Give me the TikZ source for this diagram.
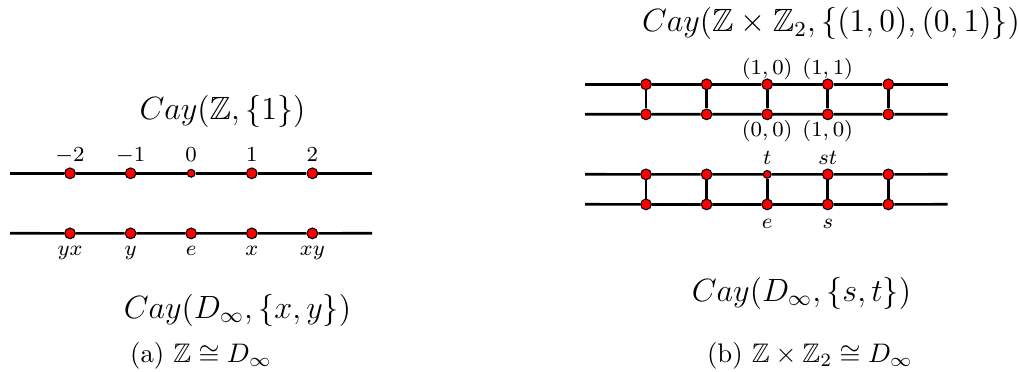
\documentclass[tikz,border=0pt]{standalone}
\usepackage{amsmath,amssymb}
\usetikzlibrary{positioning}

\begin{document}
\begin{tikzpicture}[
        x=0.373pt, y=-0.373pt,
        on grid,
        every node/.style={inner sep=0pt},
        vertex/.style={draw, circle, fill=red, minimum size=4pt, line width=0.4pt},
        smallvertex/.style={vertex, minimum size=2.9pt},
        edge/.style={line width=1pt},
        lbl/.style={font=\footnotesize, text height=5.6pt, text depth=1.6pt},
        cayname/.style={font=\large},
        capnode/.style={font=\normalsize}
    ]
        \useasboundingbox (0,0) rectangle (1020,371);

        % (a) Cay(Z,{1}) on top
        \node[cayname] (cz) at (222.5,111.7) {$Cay(\mathbb{Z},\{1\})$};
        \coordinate (zw) at (10,173.3);
        \coordinate (ze) at (372,173.3);
        \node[vertex] (zn1) at (70,173.3) {};
        \node[vertex, right=22.6pt of zn1] (zn2) {};
        \node[smallvertex, right=22.6pt of zn2] (zn3) {};
        \node[vertex, right=22.6pt of zn3] (zn4) {};
        \node[vertex, right=22.6pt of zn4] (zn5) {};

        \node[lbl, above=6.5pt of zn1] (zl1) {$-2$};
        \node[lbl, above=6.5pt of zn2] (zl2) {$-1$};
        \node[lbl, above=6.5pt of zn3] (zl3) {$0$};
        \node[lbl, above=6.5pt of zn4] (zl4) {$1$};
        \node[lbl, above=6.5pt of zn5] (zl5) {$2$};

        \draw[edge] (zw) -- (zn1) -- (zn2) -- (zn3) -- (zn4) -- (zn5) -- (ze);

        % (a) Cay(D_inf,{x,y}) below
        \coordinate (dw) at (10,233.3);
        \coordinate (de) at (372,233.3);
        \node[vertex, below=22.4pt of zn1] (dn1) {};
        \node[vertex, below=22.4pt of zn2] (dn2) {};
        \node[vertex, below=22.4pt of zn3] (dn3) {};
        \node[vertex, below=22.4pt of zn4] (dn4) {};
        \node[vertex, below=22.4pt of zn5] (dn5) {};

        \node[lbl, below=6.2pt of dn1] (dl1) {$yx$};
        \node[lbl, below=6.2pt of dn2] (dl2) {$y$};
        \node[lbl, below=6.2pt of dn3] (dl3) {$e$};
        \node[lbl, below=6.2pt of dn4] (dl4) {$x$};
        \node[lbl, below=6.2pt of dn5] (dl5) {$xy$};

        \draw[edge] (dw) -- (dn1) -- (dn2) -- (dn3) -- (dn4) -- (dn5) -- (de);

        \node[cayname] (cd) at (237.5,310) {$Cay(D_\infty,\{x,y\})$};
        \node[capnode] (capa) at (201,356) {(a) $\mathbb{Z}\cong D_\infty$};

        % (b) Cay(Z x Z2,{(1,0),(0,1)}) on top
        \node[cayname] (czz) at (831,23.3) {$Cay(\mathbb{Z}\times\mathbb{Z}_2,\{(1,0),(0,1)\})$};
        \coordinate (taw) at (585,84.3);
        \coordinate (tae) at (947.7,84.3);
        \coordinate (tbw) at (585,114.3);
        \coordinate (tbe) at (947.7,114.3);
        \node[vertex] (ta1) at (646,84.3) {};
        \node[vertex, right=22.6pt of ta1] (ta2) {};
        \node[vertex, right=22.6pt of ta2] (ta3) {};
        \node[vertex, right=22.6pt of ta3] (ta4) {};
        \node[vertex, right=22.6pt of ta4] (ta5) {};
        \node[vertex, below=11.2pt of ta1] (tb1) {};
        \node[vertex, below=11.2pt of ta2] (tb2) {};
        \node[vertex, below=11.2pt of ta3] (tb3) {};
        \node[vertex, below=11.2pt of ta4] (tb4) {};
        \node[vertex, below=11.2pt of ta5] (tb5) {};

        \node[lbl, above=5.8pt of ta3] (tl3) {$(1,0)$};
        \node[lbl, above=5.8pt of ta4] (tl4) {$(1,1)$};
        \node[lbl, below=6.3pt of tb3] (bl3) {$(0,0)$};
        \node[lbl, below=6.3pt of tb4] (bl4) {$(1,0)$};

        \draw[edge] (taw) -- (ta1) -- (ta2) -- (ta3) -- (ta4) -- (ta5) -- (tae);
        \draw[edge] (tbw) -- (tb1) -- (tb2) -- (tb3) -- (tb4) -- (tb5) -- (tbe);
        \draw[edge] (ta1) -- (tb1);
        \draw[edge] (ta2) -- (tb2);
        \draw[edge] (ta3) -- (tb3);
        \draw[edge] (ta4) -- (tb4);
        \draw[edge] (ta5) -- (tb5);

        % (b) Cay(D_inf,{s,t}) below
        \coordinate (daw) at (585,174.3);
        \coordinate (dae) at (947.7,174.3);
        \coordinate (dbw) at (585,204.3);
        \coordinate (dbe) at (947.7,204.3);
        \node[vertex, below=33.6pt of ta1] (da1) {};
        \node[vertex, below=33.6pt of ta2] (da2) {};
        \node[smallvertex, below=33.6pt of ta3] (da3) {};
        \node[vertex, below=33.6pt of ta4] (da4) {};
        \node[vertex, below=33.6pt of ta5] (da5) {};
        \node[vertex, below=11.2pt of da1] (db1) {};
        \node[vertex, below=11.2pt of da2] (db2) {};
        \node[vertex, below=11.2pt of da3] (db3) {};
        \node[vertex, below=11.2pt of da4] (db4) {};
        \node[vertex, below=11.2pt of da5] (db5) {};

        \node[lbl, above=5.8pt of da3] (al3) {$t$};
        \node[lbl, above=5.8pt of da4] (al4) {$st$};
        \node[lbl, below=6.8pt of db3] (el3) {$e$};
        \node[lbl, below=6.8pt of db4] (el4) {$s$};

        \draw[edge] (daw) -- (da1) -- (da2) -- (da3) -- (da4) -- (da5) -- (dae);
        \draw[edge] (dbw) -- (db1) -- (db2) -- (db3) -- (db4) -- (db5) -- (dbe);
        \draw[edge] (da1) -- (db1);
        \draw[edge] (da2) -- (db2);
        \draw[edge] (da3) -- (db3);
        \draw[edge] (da4) -- (db4);
        \draw[edge] (da5) -- (db5);

        \node[cayname] (cds) at (801.5,293) {$Cay(D_\infty,\{s,t\})$};
        \node[capnode] (capb) at (810,356) {(b) $\mathbb{Z}\times\mathbb{Z}_2\cong D_\infty$};

    \end{tikzpicture}
\end{document}
